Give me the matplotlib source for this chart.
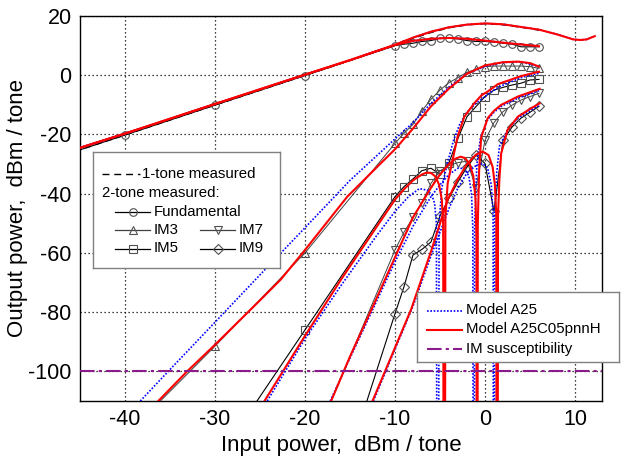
import matplotlib
matplotlib.use('Agg')
import matplotlib.pyplot as plt

plt.rcParams['font.family'] = ['Liberation Sans', 'DejaVu Sans']
plt.rcParams['axes.unicode_minus'] = False

# ---- measured, 1-tone ----
tone1_x = [-50, -40, -30, -20, -10, -8, -6, -4, -2, 0, 2, 4, 6]
tone1_y = [-30.2, -20.2, -10.1, -0.1, 10, 12.4, 14.4, 16, 17, 17.4, 17, 16.2, 15.2]

# ---- measured, 2-tone ----
fund_x = [-50, -40, -30, -20, -10, -9, -8, -7, -6, -5, -4, -3, -2, -1, 0, 1, 2, 3, 4, 5, 6]
fund_y = [-30.2, -20.2, -10.1, -0.1, 10.0, 10.5, 10.8, 11.4, 11.7, 12.5, 12.5, 12.3, 11.7,
          11.4, 11.4, 11.2, 10.8, 10.5, 9.6, 9.6, 9.6]

im3_x = [-40, -30, -20, -10, -9, -8, -7, -6, -5, -4, -3, -2, -1, 0, 1, 2, 3, 4, 5, 6]
im3_y = [-122, -91.5, -60, -23, -19.6, -16.6, -12, -8.1, -5.0, -2.5, -0.8, 1.0, 2.0, 2.9,
         3.1, 3.1, 3.1, 3.1, 2.9, 2.3]

im5_x = [-30, -20, -10, -9, -8, -7, -6, -5, -4, -3, -2, -1, 0, 1, 2, 3, 4, 5, 6]
im5_y = [-131, -86, -41, -37.6, -35, -32.2, -31.4, -33.5, -29.5, -21.3, -14, -10.6, -7.2,
         -5.0, -4.1, -3.3, -2.7, -1.6, -1.4]

im7_x = [-20, -10, -9, -8, -7, -6, -5, -4, -3, -2, -1, 0, 1, 2, 3, 4, 5, 6]
im7_y = [-131, -59, -53, -48, -43, -36.5, -32.3, -30.5, -29.5, -29, -38, -22, -16, -12.3,
         -10.1, -8.4, -7.2, -6.1]

im9_x = [-20, -10, -9, -8, -7, -6, -5, -4, -3, -2, -1, 0, 1, 2, 3, 4, 5, 6]
im9_y = [-175, -80.5, -71.4, -60.7, -58.8, -56.3, -47.5, -41.5, -36, -31, -27, -29.8, -46,
         -22, -17.5, -14.5, -12.5, -10.5]

# ---- model A25C05pnnH (red) ----
r1_x = [-45, -40, -30, -20, -15, -12, -10, -8, -6, -4, -2, 0, 2, 4, 6, 8, 9.8, 10.6, 11.3, 12.2]
r1_y = [-24.5, -19.7, -9.7, 0.2, 5.1, 8.2, 10.3, 12.7, 14.7, 16.2, 17.1, 17.5, 17.2, 16.3,
        15.4, 13.8, 12.1, 11.9, 12.1, 13.2]
rf_x = [-45, -40, -30, -20, -15, -12, -10, -8, -6, -4, -2, 0, 2, 4, 6]
rf_y = [-24.5, -19.7, -9.7, 0.2, 5.1, 8.2, 10.2, 11.6, 12.3, 12.6, 12.3, 11.7, 11.0, 10.4, 9.8]
r3_x = [-36.3, -33.1, -30, -25, -22.7, -20, -15.3, -12, -10, -8, -6, -4, -2, 0, 2, 3.7, 5, 6]
r3_y = [-110, -100, -91, -76, -69, -59, -41, -31, -25, -18, -10.5, -4.5, 0.5, 3.3, 4.4, 4.6,
        4.1, 2.9]
r5_x = [-24.5, -20, -16, -12, -10, -9, -8, -7, -6.5, -6, -5.5, -5.1, -4.8, -4.65, -4.52,
        -4.4, -4.15, -3.6, -3.04, -2.3, -1.2, -0.4, 0.3, 1.43, 4, 6]
r5_y = [-110, -88, -69, -51, -42, -38.5, -35.5, -33.5, -32.9, -33, -34.2, -37, -42, -50, -300,
        -48, -36.5, -28.6, -20.7, -14, -9.5, -6.8, -5.5, -3, -0.3, 1.2]
r7_x = [-17.1, -15, -12, -10, -8, -6, -5, -4, -3.3, -2.7, -2.2, -1.7, -1.3, -1.05, -0.95,
        -0.88, -0.8, -0.65, -0.43, 0.3, 1, 1.8, 3.65, 6.07]
r7_y = [-110, -95, -75, -61.5, -48, -38, -33.5, -30, -28.2, -27.5, -28, -30, -34, -42, -55,
        -300, -50, -32, -21, -14.5, -12, -10, -7.2, -4.6]
r9_x = [-12.5, -10, -8.2, -6, -4.14, -3, -2, -1, -0.25, 0.4, 0.85, 1.1, 1.25, 1.35, 1.45, 1.6,
        1.8, 2.5, 3.65, 5.1, 6.07]
r9_y = [-110, -92, -79, -59.5, -42, -35, -30, -26.8, -25.8, -27, -31, -37, -47, -300, -47, -35,
        -26.4, -18.5, -14, -11.2, -9.5]

# ---- model A25 (blue) ----
b1_x = r1_x
b1_y = r1_y
bf_x = rf_x
bf_y = rf_y
b3_x = [-38.3, -35.2, -30, -25, -20, -15, -10, -8, -6, -4, -2, 0, 2, 4, 6]
b3_y = [-110, -100, -83.4, -67.4, -51.5, -35.5, -21.5, -16, -9.5, -4, 0.5, 3, 4.3, 4.5, 2.9]
b5_x = [-24.2, -20, -16, -12, -10, -8.5, -7.3, -6.4, -5.9, -5.6, -5.4, -5.26, -5.1, -4.8,
        -4.2, -3.5, -2.8, -2, -1, 0.3, 1.5, 4, 6]
b5_y = [-110, -89, -71, -54, -46, -41, -38.3, -38.8, -40.5, -43.3, -50, -300, -50, -38, -30,
        -22, -16.5, -12.5, -9.5, -6.5, -4, -0.8, 0.7]
b7_x = [-17.2, -15, -12, -10, -8, -6, -5, -4, -3, -2.3, -1.8, -1.5, -1.35, -1.26, -1.15, -0.9,
        -0.5, 0.3, 1, 1.8, 3.65, 6]
b7_y = [-110, -95.5, -76, -63, -51, -41, -37, -33.5, -31.4, -31.5, -34, -40, -52, -300, -50,
        -30, -21, -15, -12.5, -10.5, -7.8, -5.2]
b9_x = [-12.4, -10, -8, -6, -4, -3, -2, -1, -0.25, 0.3, 0.7, 0.9, 0.98, 1.08, 1.3, 1.6, 2.5,
        3.65, 5.1, 6.07]
b9_y = [-110, -92.5, -78, -61, -45, -38, -33, -30.5, -29.8, -31.5, -37, -47, -300, -47, -33,
        -24, -18.5, -14.5, -11.8, -10]

susc_level = -100

W, H = 622, 462
fig = plt.figure(figsize=(W / 100, H / 100), dpi=100)
ax = fig.add_axes([80 / W, 1 - 401 / H, 522 / W, 385 / H])

mk = dict(markerfacecolor='none', markeredgecolor='#505050', markersize=5.5, markeredgewidth=0.8)
ax.plot(tone1_x, tone1_y, color='black', lw=0.9, ls=(0, (5, 3.5)), zorder=2)
ax.plot(fund_x, fund_y, color='black', lw=0.8, marker='o', zorder=2, **mk)
ax.plot(im3_x, im3_y, color='#404040', lw=0.7, marker='^', zorder=2, **mk)
ax.plot(im5_x, im5_y, color='black', lw=0.8, marker='s', zorder=2, **mk)
ax.plot(im7_x, im7_y, color='#404040', lw=0.7, marker='v', zorder=2, **mk)
ax.plot(im9_x, im9_y, color='black', lw=0.8, marker='D', zorder=2,
        **dict(mk, markersize=5))

blue = dict(color='#0000ff', lw=1.2, ls=(0, (1, 1)), zorder=3)
for xs, ys in [(b1_x, b1_y), (bf_x, bf_y), (b3_x, b3_y), (b5_x, b5_y), (b7_x, b7_y), (b9_x, b9_y)]:
    ax.plot(xs, ys, **blue)

red = dict(color='#ff0000', lw=1.5, zorder=4)
for xs, ys in [(r1_x, r1_y), (rf_x, rf_y), (r3_x, r3_y), (r5_x, r5_y), (r7_x, r7_y), (r9_x, r9_y)]:
    ax.plot(xs, ys, **red)

ax.axhline(susc_level, color='#8b1a8b', lw=1.5, ls=(0, (7, 2, 1.5, 2)), zorder=5)

ax.set_xlim(-45, 13)
ax.set_ylim(-110, 20)
ax.set_xticks([-40, -30, -20, -10, 0, 10])
ax.set_yticks([-100, -80, -60, -40, -20, 0, 20])
ax.grid(True, color='black', lw=0.9, ls=(0, (1, 2.2)))
ax.tick_params(length=0, pad=6, labelsize=15.5)
for s in ax.spines.values():
    s.set_linewidth(1.0)
ax.set_xlabel('Input power,  dBm / tone', fontsize=16, labelpad=3)
ax.set_ylabel('Output power,  dBm / tone', fontsize=16, labelpad=0)

# ---- legend 1: measured data ----
lx0, ly0, lx1, ly1 = 93, 152, 280, 268
lg = fig.add_axes([lx0 / W, 1 - ly1 / H, (lx1 - lx0) / W, (ly1 - ly0) / H])
lg.set_xlim(0, lx1 - lx0)
lg.set_ylim(ly1 - ly0, 0)
lg.set_xticks([])
lg.set_yticks([])
for s in lg.spines.values():
    s.set_color('#808080')
    s.set_linewidth(1.0)
fs = 10.8
lg.plot([9, 47], [22, 22], color='black', lw=1.0, ls=(0, (5, 3.5)))
lg.text(49, 22, '1-tone measured', fontsize=fs, va='center')
lg.text(9, 41, '2-tone measured:', fontsize=fs, va='center')
entries = [('o', 'Fundamental', 22, 60, 'black'),
           ('^', 'IM3', 22, 78, '#404040'),
           ('s', 'IM5', 22, 96.5, 'black'),
           ('v', 'IM7', 107, 78, '#404040'),
           ('D', 'IM9', 107, 96.5, 'black')]
for m, lab, x0, y0, c in entries:
    lg.plot([x0, x0 + 35], [y0, y0], color=c, lw=0.9)
    lg.plot([x0 + 17.5], [y0], marker=m, **(dict(mk, markersize=5) if m == 'D' else mk))
    lg.text(x0 + 39, y0, lab, fontsize=fs, va='center')

# ---- legend 2: models ----
mx0, my0, mx1, my1 = 417, 292, 619, 362
lm = fig.add_axes([mx0 / W, 1 - my1 / H, (mx1 - mx0) / W, (my1 - my0) / H])
lm.set_xlim(0, mx1 - mx0)
lm.set_ylim(my1 - my0, 0)
lm.set_xticks([])
lm.set_yticks([])
for s in lm.spines.values():
    s.set_color('#808080')
    s.set_linewidth(1.0)
lm.plot([10, 45], [18.5, 18.5], color='#0000ff', lw=1.2, ls=(0, (1, 1)))
lm.text(48.5, 18.5, 'Model A25', fontsize=fs, va='center')
lm.plot([10, 45], [37.5, 37.5], color='#ff0000', lw=1.5)
lm.text(48.5, 37.5, 'Model A25C05pnnH', fontsize=fs, va='center')
lm.plot([10, 45], [56.5, 56.5], color='#8b1a8b', lw=1.5, ls=(0, (7, 2, 1.5, 2)))
lm.text(48.5, 56.5, 'IM susceptibility', fontsize=fs, va='center')

fig.savefig('out.png', dpi=100)
